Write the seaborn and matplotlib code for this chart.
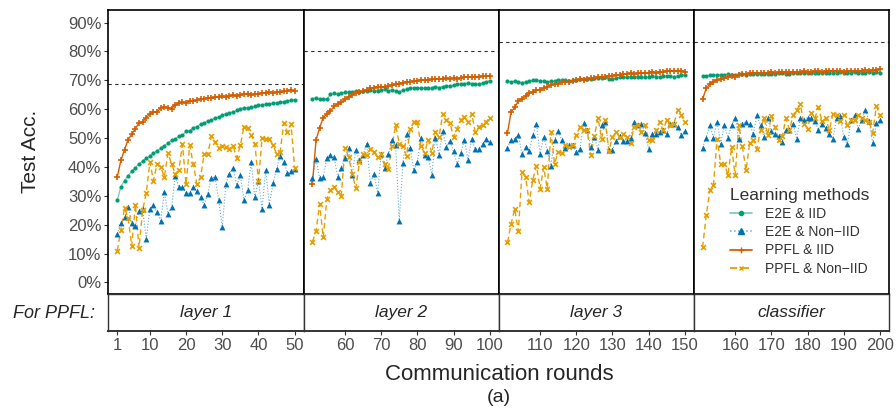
import numpy as np
import pandas as pd
import matplotlib
matplotlib.use("Agg")
import matplotlib.pyplot as plt
from matplotlib import font_manager
from matplotlib.lines import Line2D
from matplotlib.legend_handler import HandlerTuple
import seaborn as sns

# ---- data ----
facets = ["layer 1", "layer 2", "layer 3", "classifier"]
rounds = list(range(1, 201))
baseline = [68.7, 80.0, 83.4, 83.4]
x_ticks = [1, 10, 20, 30, 40, 50, 60, 70, 80, 90, 100, 110, 120, 130, 140, 150,
           160, 170, 180, 190, 200]
y_ticks = [0, 10, 20, 30, 40, 50, 60, 70, 80, 90]

e2e_iid = [
    28.4, 33.2, 35.3, 37.0, 38.5, 39.8, 41.0, 42.1, 43.0, 43.9, 44.8, 45.6, 46.5, 47.4, 48.2, 49.3, 49.6,
    50.6, 51.0, 52.3, 52.6, 53.6, 54.0, 54.8, 55.2, 55.9, 56.1, 57.0, 57.3, 58.0, 58.3, 58.8, 59.0, 59.6,
    60.2, 60.5, 60.4, 60.6, 61.0, 61.4, 61.6, 61.7, 61.9, 62.0, 62.2, 62.4, 62.6, 62.9, 63.1, 63.3,
    63.7, 63.9, 63.4, 63.7, 63.4, 65.1, 65.5, 65.2, 65.5, 65.8, 66.0, 66.0, 66.4, 66.0, 66.4, 66.3, 66.6,
    66.4, 66.4, 66.6, 66.9, 66.4, 66.6, 66.4, 66.0, 66.6, 66.9, 67.2, 67.4, 67.2, 67.4, 67.2, 67.2, 67.4,
    67.8, 67.5, 67.8, 68.0, 68.0, 68.3, 68.6, 68.9, 68.9, 69.1, 68.9, 68.9, 68.6, 69.1, 69.5, 69.8,
    69.7, 69.5, 69.7, 69.5, 69.2, 69.5, 69.8, 70.0, 70.0, 69.7, 69.8, 69.5, 69.7, 69.7, 70.0, 70.2, 70.2,
    69.8, 70.0, 70.0, 70.3, 70.5, 70.3, 70.5, 70.8, 70.8, 70.8, 71.0, 70.5, 70.3, 70.8, 71.0, 71.0, 71.0,
    71.2, 71.0, 71.2, 71.0, 71.0, 71.2, 71.5, 71.0, 71.3, 71.5, 71.5, 71.5, 71.3, 71.5, 71.7, 71.7,
    71.5, 71.5, 71.7, 71.8, 71.8, 72.0, 72.0, 72.1, 72.0, 72.0, 72.1, 72.2, 72.0, 72.1, 72.2, 72.2, 72.3,
    72.2, 72.3, 72.3, 72.2, 72.4, 72.5, 72.3, 72.2, 72.4, 72.5, 72.6, 72.4, 72.6, 72.5, 72.6, 72.4, 72.6,
    72.7, 72.5, 72.5, 72.6, 72.8, 72.6, 72.4, 72.7, 72.8, 72.6, 72.6, 72.7, 72.8, 72.7, 72.9, 72.6,
]
e2e_noniid = [
    16.8, 20.6, 22.6, 26.3, 20.6, 19.7, 24.9, 25.5, 15.1, 25.5, 26.9, 24.3, 21.4, 31.5, 23.8, 26.1, 36.7,
    33.0, 33.0, 30.9, 30.9, 33.0, 31.6, 29.5, 27.0, 30.7, 36.3, 36.5, 28.7, 19.1, 34.2, 37.7, 39.7, 33.6,
    37.1, 28.6, 31.9, 41.7, 29.5, 35.3, 25.5, 39.0, 27.0, 34.4, 39.4, 43.8, 41.7, 37.9, 38.6, 39.4,
    36.1, 42.7, 36.1, 36.5, 43.2, 44.3, 43.4, 36.5, 39.7, 43.2, 46.6, 37.1, 46.0, 42.3, 44.0, 48.1, 34.4,
    37.7, 31.1, 44.4, 39.7, 44.4, 49.2, 47.7, 21.4, 41.3, 51.3, 46.7, 38.8, 41.7, 50.2, 44.3, 43.6, 37.3,
    50.2, 44.3, 52.5, 46.9, 49.0, 45.4, 40.9, 44.8, 49.5, 42.5, 49.7, 46.1, 46.3, 47.8, 49.6, 48.6,
    46.6, 49.5, 49.8, 51.0, 44.6, 46.9, 45.5, 51.0, 55.0, 44.6, 50.4, 45.5, 40.5, 49.5, 52.5, 49.2, 46.6,
    47.5, 47.5, 45.2, 46.1, 55.2, 52.7, 46.9, 50.4, 46.0, 54.4, 55.6, 46.0, 46.0, 48.9, 50.6, 48.9, 48.9,
    50.2, 55.6, 54.7, 54.8, 51.8, 46.3, 51.5, 51.5, 52.1, 52.7, 51.5, 54.8, 55.0, 53.9, 51.0, 52.5,
    46.7, 50.2, 54.4, 50.2, 55.6, 48.1, 54.4, 50.2, 54.4, 57.1, 49.8, 55.0, 55.4, 54.8, 51.3, 57.9, 54.4,
    50.4, 56.8, 52.4, 51.5, 50.6, 48.6, 52.9, 52.9, 55.0, 49.8, 56.8, 56.2, 57.1, 57.1, 55.9, 52.7, 55.0,
    53.6, 51.5, 49.8, 56.8, 57.6, 50.4, 47.8, 56.2, 57.9, 53.3, 56.4, 59.7, 55.9, 48.3, 55.2, 56.2,
]
ppfl_iid = [
    36.5, 42.3, 46.0, 49.5, 51.3, 53.3, 55.2, 55.6, 57.1, 58.3, 59.0, 59.2, 60.3, 60.8, 60.5, 60.2, 61.5,
    62.0, 62.4, 62.2, 63.0, 62.8, 63.2, 63.5, 63.6, 63.9, 63.8, 64.1, 64.2, 64.4, 64.3, 64.6, 64.8, 64.7,
    65.0, 65.2, 65.4, 64.9, 65.3, 65.2, 65.5, 65.7, 65.9, 65.6, 66.0, 65.9, 66.2, 66.4, 66.5, 66.3,
    34.0, 49.2, 53.6, 57.1, 58.3, 59.4, 61.0, 61.7, 62.5, 63.4, 64.3, 64.9, 65.5, 66.0, 66.3, 66.6, 67.2,
    67.5, 67.8, 67.8, 67.6, 68.0, 68.3, 68.6, 68.9, 69.1, 69.5, 69.5, 69.8, 69.8, 70.1, 70.1, 70.1, 70.3,
    70.3, 70.5, 70.5, 70.7, 70.5, 70.8, 70.6, 70.9, 71.0, 71.1, 71.2, 71.3, 71.3, 71.5, 71.6, 71.5,
    51.8, 59.1, 60.6, 62.9, 63.7, 64.5, 65.7, 66.0, 66.6, 66.8, 67.2, 67.8, 68.3, 68.7, 68.9, 69.3, 69.5,
    69.5, 69.8, 70.1, 70.3, 70.1, 70.4, 70.7, 70.9, 71.0, 71.2, 71.2, 71.5, 71.6, 71.8, 71.8, 72.1, 72.2,
    72.4, 72.3, 72.4, 72.6, 72.6, 72.7, 73.0, 72.6, 73.0, 73.0, 73.2, 73.3, 73.3, 73.3, 73.2, 73.0,
    63.5, 67.2, 68.7, 69.5, 70.1, 70.3, 70.7, 71.0, 71.5, 71.2, 71.8, 72.1, 72.2, 72.4, 72.6, 72.5, 72.6,
    72.7, 72.6, 72.8, 72.7, 72.8, 72.9, 72.8, 72.9, 73.0, 72.8, 73.0, 73.1, 72.9, 73.0, 73.2, 73.1, 73.0,
    73.3, 73.2, 73.1, 73.3, 73.2, 73.0, 73.3, 73.2, 73.4, 73.3, 73.2, 73.5, 73.4, 73.6, 73.5, 73.9,
]
ppfl_noniid = [
    11.0, 18.2, 25.8, 22.2, 12.6, 27.0, 12.0, 25.0, 30.9, 41.7, 35.3, 41.1, 40.0, 36.5, 44.8, 41.1, 37.7,
    38.8, 47.8, 34.0, 47.5, 41.0, 34.0, 36.5, 44.5, 44.5, 50.7, 48.6, 46.5, 47.3, 46.8, 46.3, 47.3, 43.1,
    47.5, 54.0, 53.5, 51.0, 48.1, 35.3, 50.0, 49.7, 49.8, 47.5, 44.6, 45.3, 55.2, 52.0, 54.8, 39.8,
    14.1, 17.7, 27.2, 15.6, 29.0, 32.1, 33.0, 31.3, 30.1, 46.7, 43.5, 37.7, 32.6, 41.7, 44.6, 44.0, 46.3,
    45.2, 43.4, 44.6, 41.1, 39.4, 47.1, 54.4, 48.1, 47.1, 43.7, 53.0, 55.6, 55.6, 47.1, 44.8, 49.5, 44.8,
    52.1, 50.4, 58.5, 56.2, 55.3, 50.4, 53.3, 56.2, 57.3, 55.6, 58.5, 52.1, 53.9, 54.7, 55.6, 57.1,
    13.9, 20.3, 25.5, 17.7, 38.2, 36.5, 27.8, 35.6, 40.5, 32.5, 39.9, 32.5, 52.1, 41.1, 45.2, 44.8, 47.5,
    46.9, 47.5, 51.0, 53.9, 52.7, 52.7, 44.0, 50.6, 57.1, 49.8, 56.2, 45.5, 50.4, 52.1, 50.4, 51.5, 50.4,
    48.4, 53.9, 54.4, 52.1, 54.4, 49.5, 49.2, 52.8, 55.6, 52.7, 56.4, 54.4, 55.0, 59.7, 57.9, 55.6,
    12.2, 23.2, 31.9, 33.6, 49.8, 41.1, 41.1, 37.1, 46.9, 37.1, 54.4, 47.1, 38.8, 48.3, 49.2, 46.3, 52.7,
    57.1, 51.0, 57.6, 53.9, 49.5, 50.6, 56.8, 52.9, 57.9, 59.7, 61.7, 55.0, 53.3, 58.7, 56.8, 60.6, 55.9,
    56.8, 52.7, 58.3, 57.9, 55.9, 57.9, 54.4, 56.2, 56.4, 58.1, 56.8, 56.2, 55.6, 51.9, 61.0, 57.9,
]

methods = ["E2E & IID", "E2E & Non\u2212IID", "PPFL & IID", "PPFL & Non\u2212IID"]
colors = ["#009E73", "#0072B2", "#D55E00", "#E69F00"]
# line style, line alpha, line width, marker, marker size (pt^2)
styles = [
    ("-", 0.55, 0.9, "o", 9),
    (":", 0.6, 0.8, "^", 18),
    ("-", 1.0, 1.0, "+", 20),
    ((0, (4, 2.5)), 1.0, 1.0, "x", 12),
]

series = [e2e_iid, e2e_noniid, ppfl_iid, ppfl_noniid]
frames = []
for m, vals in zip(methods, series):
    frames.append(pd.DataFrame({"method": m, "round": rounds, "acc": vals}))
df = pd.concat(frames, ignore_index=True)
df["facet"] = [facets[(r - 1) // 50] for r in df["round"]]

# ---- style ----
sns.set_theme(style="white")
names = {f.name for f in font_manager.fontManager.ttflist}
narrow = "Liberation Sans Narrow" if "Liberation Sans Narrow" in names else "Liberation Sans"
plt.rcParams["font.family"] = ["Liberation Sans", "DejaVu Sans"]

fig = plt.figure(figsize=(8.96, 4.11), dpi=100)
gs = fig.add_gridspec(2, 4, left=0.121, right=0.992, top=0.976, bottom=0.195,
                      height_ratios=[283, 37], hspace=0, wspace=0)

axes = []
for i, facet in enumerate(facets):
    ax = fig.add_subplot(gs[0, i], sharey=axes[0] if axes else None)
    strip = fig.add_subplot(gs[1, i], sharex=ax)
    axes.append(ax)
    sub = df[df["facet"] == facet]

    for m, c, (ls, la, lw, mk, ms) in zip(methods, colors, styles):
        d = sub[sub["method"] == m]
        sns.lineplot(data=d, x="round", y="acc", color=c, linestyle=ls, alpha=la,
                     lw=lw, estimator=None, ax=ax, legend=False)
        if mk in ("+", "x"):
            sns.scatterplot(data=d, x="round", y="acc", color=c, marker=mk, s=ms,
                            linewidth=1.2, ax=ax, legend=False, zorder=3)
        else:
            sns.scatterplot(data=d, x="round", y="acc", color=c, marker=mk, s=ms,
                            linewidth=0, ax=ax, legend=False, zorder=3)

    ax.axhline(baseline[i], color="#333333", ls=(0, (3, 3)), lw=0.8)

    lo, hi = sub["round"].min(), sub["round"].max()
    pad = (hi - lo) * 0.05
    ax.set_xlim(lo - pad, hi + pad)
    ax.set_ylim(-3.9, 94.4)
    ax.set_xlabel("")
    ax.set_ylabel("")
    ax.tick_params(axis="x", bottom=False, labelbottom=False)
    if i == 0:
        ax.set_yticks(y_ticks)
        ax.set_yticklabels([f"{v}%" for v in y_ticks])
        ax.tick_params(axis="y", left=True, length=3, width=0.8, color="#333333",
                       labelcolor="#4D4D4D", labelsize=12, pad=2)
    else:
        ax.tick_params(axis="y", left=False, labelleft=False)
    for sp in ax.spines.values():
        sp.set_color("black")
        sp.set_linewidth(1.2)

    # facet strip under the panel
    strip.set_facecolor("white")
    strip.text(0.5, 0.5, facet, transform=strip.transAxes, ha="center", va="center",
               fontsize=12.5, style="italic", family=narrow)
    strip.set_yticks([])
    strip.set_xticks([t for t in x_ticks if lo <= t <= hi])
    strip.tick_params(axis="x", bottom=True, length=3, width=0.8, color="#333333",
                      labelcolor="#4D4D4D", labelsize=12, pad=2)
    for lab in strip.get_xticklabels():
        lab.set_family(narrow)
    for sp in strip.spines.values():
        sp.set_color("#333333")
        sp.set_linewidth(1.0)
    strip.spines["bottom"].set_linewidth(1.4)

# legend inside the last panel
handles = []
for c, (ls, la, lw, mk, ms) in zip(colors, styles):
    line = Line2D([0], [0], color=c, linestyle=ls, lw=lw + 0.3, alpha=la)
    mark = Line2D([0], [0], color=c, linestyle="none", marker=mk,
                  markersize=np.sqrt(ms), markeredgewidth=1.0)
    handles.append((line, mark))
leg = axes[3].legend(handles, methods, title="Learning methods", loc="lower left",
                     bbox_to_anchor=(0.13, 0.025), frameon=True, framealpha=0.75,
                     facecolor="white", edgecolor="none", fontsize=10,
                     title_fontsize=12.5, alignment="left", labelspacing=0.3,
                     borderpad=0.3, handlelength=1.6, handletextpad=0.9,
                     handler_map={tuple: HandlerTuple(ndivide=1)})
leg.get_title().set_color("#333333")
for t in leg.get_texts():
    t.set_color("#333333")

fig.text(0.034, 0.631, "Test Acc.", rotation=90, ha="center", va="center", fontsize=15)
fig.text(0.106, 0.238, "For PPFL:", ha="right", va="center", fontsize=13,
         style="italic", family=narrow)
fig.text(0.557, 0.09, "Communication rounds", ha="center", va="center", fontsize=16,
         family=narrow)
fig.text(0.557, 0.034, "(a)", ha="center", va="center", fontsize=14, family=narrow)

fig.savefig("out.png", dpi=100)
